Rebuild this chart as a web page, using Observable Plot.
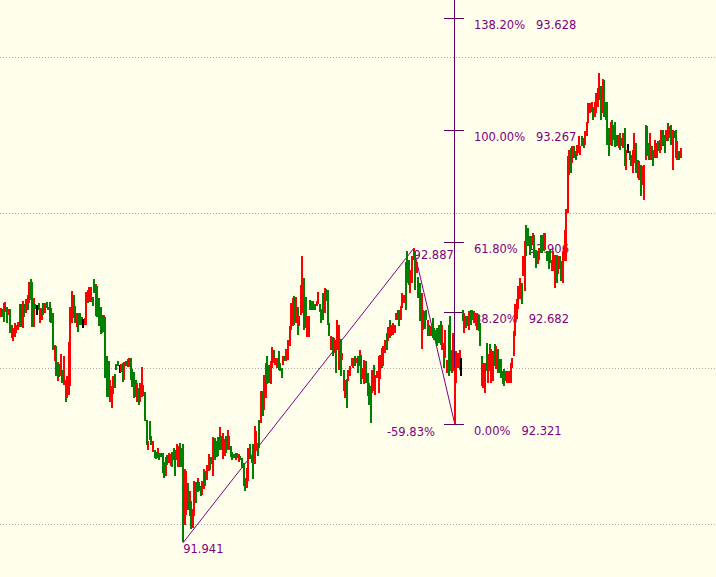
<!DOCTYPE html>
<html><head><meta charset="utf-8">
<script src="https://cdn.jsdelivr.net/npm/d3@7"></script>
<script src="https://cdn.jsdelivr.net/npm/@observablehq/plot@0.6"></script>
<style>
html,body{margin:0;padding:0;background:#FFFFEC;overflow:hidden;}
#chart svg{display:block;}
</style></head><body><div id="chart"></div>
<script>
// Bar highs (price), left to right
const high = [
92.693,92.690,92.709,92.714,92.696,92.690,92.690,92.639,92.629,92.645,92.639,92.650,92.707,92.707,92.718,92.707,92.722,92.736,92.779,92.786,
92.779,92.725,92.707,92.704,92.709,92.693,92.693,92.709,92.709,92.714,92.696,92.712,92.693,92.677,92.575,92.572,92.519,92.514,92.546,92.495,
92.540,92.463,92.474,92.586,92.698,92.750,92.736,92.700,92.677,92.679,92.679,92.666,92.658,92.661,92.746,92.752,92.763,92.763,92.728,92.786,
92.771,92.765,92.725,92.698,92.672,92.672,92.666,92.540,92.522,92.461,92.444,92.474,92.482,92.514,92.525,
92.511,92.514,92.516,92.519,92.525,92.530,92.532,92.532,92.497,92.489,92.462,92.452,92.436,92.454,92.505,92.446,92.425,92.334,92.265,92.329,
92.283,92.265,92.238,92.232,92.243,92.227,92.229,92.227,92.200,92.216,92.222,92.227,92.225,92.232,92.243,92.238,92.257,92.249,92.259,92.243,
92.257,92.176,92.168,92.131,92.104,92.072,92.047,92.136,92.133,92.147,92.133,92.120,92.136,92.176,92.168,92.190,92.225,92.214,92.216,92.278,
92.275,92.265,92.278,92.311,92.283,92.293,92.272,92.283,92.300,92.283,92.249,92.232,92.225,92.229,92.229,92.225,92.219,92.211,
92.196,92.148,92.180,92.244,92.255,92.218,92.255,92.314,92.298,92.260,92.335,92.426,92.426,92.480,92.517,92.541,92.512,92.523,92.569,92.560,
92.533,92.533,92.555,92.517,92.501,92.541,92.541,92.562,92.592,92.637,92.710,92.726,92.733,92.731,92.697,92.667,92.769,92.862,92.790,92.729,
92.669,92.667,92.721,92.715,92.715,92.708,92.715,92.747,92.708,92.691,92.742,92.758,92.755,92.753,92.646,92.603,92.601,92.597,92.592,92.656,
92.640,92.594,92.549,92.496,92.462,92.464,92.494,92.507,92.533,92.533,92.539,92.533,92.539,92.560,92.544,
92.501,92.528,92.522,92.485,92.453,92.442,92.496,92.512,92.480,92.490,92.539,92.544,92.565,92.571,92.592,92.613,92.633,92.656,92.640,92.646,
92.640,92.678,92.688,92.688,92.699,92.742,92.736,92.843,92.876,92.849,92.817,92.860,92.887,92.876,92.843,92.795,92.774,92.742,92.688,92.683,
92.688,92.656,92.640,92.635,92.662,92.629,92.624,92.629,92.640,92.651,92.640,92.581,92.624,92.528,92.640,92.667,92.560,92.613,92.501,92.555,
92.549,92.560,92.533,92.688,92.678,92.667,92.667,92.683,92.688,92.688,92.683,92.678,92.678,92.672,
92.647,92.540,92.518,92.518,92.583,92.545,92.577,92.561,92.556,92.577,92.572,92.561,92.529,92.529,92.492,92.497,92.492,92.492,92.492,92.518,
92.534,92.620,92.706,92.722,92.765,92.791,92.775,92.861,92.909,92.962,92.952,92.925,92.925,92.936,92.930,92.882,92.877,92.888,92.930,92.930,
92.936,92.936,92.877,92.877,92.882,92.850,92.877,92.866,92.866,92.861,92.861,92.845,92.877,92.946,93.011,93.182,93.203,93.209,93.214,93.214,
93.198,93.219,93.246,93.214,93.246,93.241,93.262,93.294,93.353,93.353,93.358,93.340,93.358,93.385,93.401,
93.449,93.407,93.430,93.428,93.358,93.358,93.273,93.294,93.300,93.283,93.294,93.251,93.251,93.257,93.241,93.257,93.273,93.203,93.222,93.198,
93.187,93.203,93.257,93.225,93.171,93.166,93.155,93.150,93.155,93.283,93.278,93.225,93.257,93.214,93.203,93.233,93.225,93.230,93.233,93.267,
93.267,93.251,93.267,93.289,93.278,93.283,93.267,93.262,93.267,93.230,93.198,93.209
];
// Bar lows (price)
const low = [
92.666,92.666,92.650,92.682,92.645,92.672,92.613,92.597,92.589,92.602,92.613,92.623,92.634,92.634,92.629,92.666,92.677,92.688,92.709,92.720,
92.634,92.634,92.690,92.672,92.688,92.645,92.656,92.672,92.677,92.693,92.688,92.650,92.645,92.559,92.525,92.474,92.458,92.471,92.474,92.452,
92.447,92.390,92.404,92.415,92.442,92.645,92.661,92.645,92.634,92.618,92.639,92.639,92.629,92.639,92.639,92.709,92.714,92.714,92.700,92.741,
92.668,92.664,92.636,92.611,92.613,92.618,92.468,92.407,92.409,92.390,92.372,92.418,92.436,92.495,92.506,
92.484,92.489,92.457,92.462,92.507,92.505,92.503,92.462,92.441,92.404,92.409,92.393,92.382,92.393,92.409,92.411,92.329,92.254,92.236,92.270,
92.254,92.232,92.211,92.208,92.211,92.206,92.216,92.163,92.147,92.152,92.190,92.195,92.186,92.182,92.204,92.152,92.206,92.182,92.182,92.184,
91.941,91.997,92.029,92.045,92.024,91.983,91.986,92.026,92.067,92.101,92.104,92.090,92.093,92.112,92.120,92.142,92.168,92.174,92.193,92.152,
92.206,92.216,92.219,92.238,92.238,92.208,92.219,92.227,92.238,92.238,92.216,92.206,92.211,92.206,92.211,92.200,92.204,92.179,
92.121,92.105,92.116,92.137,92.207,92.196,92.143,92.191,92.234,92.218,92.244,92.325,92.346,92.367,92.405,92.448,92.453,92.448,92.501,92.517,
92.512,92.501,92.496,92.490,92.469,92.512,92.523,92.523,92.528,92.571,92.624,92.637,92.640,92.646,92.608,92.637,92.672,92.678,92.624,92.630,
92.601,92.601,92.688,92.686,92.686,92.688,92.699,92.708,92.680,92.646,92.656,92.678,92.715,92.640,92.605,92.560,92.541,92.549,92.485,92.560,
92.494,92.474,92.528,92.426,92.405,92.373,92.458,92.474,92.507,92.501,92.509,92.517,92.485,92.507,92.448,
92.464,92.448,92.453,92.410,92.383,92.325,92.421,92.426,92.415,92.469,92.421,92.464,92.501,92.506,92.549,92.560,92.587,92.597,92.603,92.608,
92.613,92.656,92.656,92.635,92.656,92.694,92.710,92.688,92.774,92.769,92.742,92.774,92.849,92.753,92.806,92.726,92.651,92.562,92.624,92.626,
92.656,92.603,92.603,92.603,92.597,92.592,92.581,92.571,92.581,92.576,92.560,92.501,92.533,92.485,92.474,92.490,92.485,92.490,92.321,92.453,
92.501,92.496,92.474,92.651,92.613,92.629,92.635,92.624,92.640,92.656,92.646,92.635,92.624,92.619,
92.572,92.444,92.438,92.422,92.492,92.454,92.492,92.454,92.460,92.508,92.497,92.486,92.486,92.470,92.449,92.444,92.460,92.454,92.454,92.454,
92.502,92.540,92.604,92.658,92.690,92.722,92.706,92.797,92.748,92.861,92.893,92.866,92.882,92.898,92.855,92.823,92.834,92.850,92.872,92.872,
92.877,92.882,92.845,92.818,92.839,92.813,92.813,92.759,92.775,92.802,92.818,92.781,92.775,92.845,92.845,93.000,93.123,93.128,93.160,93.176,
93.171,93.182,93.193,93.187,93.214,93.209,93.219,93.246,93.289,93.321,93.326,93.300,93.310,93.321,93.342,
93.364,93.300,93.321,93.310,93.300,93.219,93.182,93.219,93.214,93.235,93.212,93.214,93.209,93.203,93.214,93.209,93.150,93.139,93.193,93.171,
93.150,93.128,93.160,93.128,93.112,93.107,93.053,93.091,93.043,93.171,93.182,93.171,93.171,93.171,93.150,93.176,93.176,93.198,93.193,93.203,
93.214,93.193,93.230,93.230,93.241,93.219,93.139,93.241,93.176,93.171,93.171,93.176
];
// Bar direction: g = up, r = down, k = unchanged
const barDir = (
"rggrgrggrr"+"rrggrgrgrg"+"grgkgrrgrg"+"ggggrgrgrg"+"rgrrrrggrg"+"ggkrrgrrgg"+"rggggrgggr"+"rrggg"+
"krgrggrggg"+"grgrrrggrg"+"grggrggggr"+"grrgggrrgg"+"grrgrgrrgr"+"ggrrgrrgrr"+"gggrgrrgrr"+"gggrgrgg"+
"ggrrgrgrrg"+"grgrrggrrg"+"rrgggrgrrr"+"rrgrgrrrgg"+"rrggggrrgg"+"grgggrgrgr"+"rgrgrgrrgr"+"grgrg"+
"rrggggrgrr"+"rrgrrgrgrr"+"rrggrrrggg"+"rrrgrggrrg"+"grgrggrggg"+"rgrrgggrrr"+"rrkgrggrgg"+"rgrg"+
"ggrrgrgrrg"+"rggggggrrr"+"rrrrrrgrrg"+"gggrggrrgg"+"grgggrrrgr"+"ggrrrrrgrg"+"grrrggrrrr"+"rgrrr"+
"rgrggggrgr"+"ggrgrrgrkg"+"grrggrgrrr"+"ggrggrrgrr"+"ggrgrgrggr"+"gr"
).split("");

// Fibonacci expansion anchors (bar number, price)
const fibA = {bar: 115, price: 91.941};
const fibB = {bar: 260, price: 92.887};
const fibC = {bar: 286, price: 92.321};
const fibLevels = [0, 0.382, 0.618, 1, 1.382];
const gridPrices = [92.0, 92.5, 93.0, 93.5];
const yDomain = [91.8285, 93.685];

const purple = "#800080";
const darkPurple = "#5e005e";
const colorOf = {g: "#008000", r: "#ff0000", k: "#000000"};
const bars = high.map((h, i) => ({i, high: h, low: low[i], dir: barDir[i] || "g"}));
const N = bars.length;
const range = fibB.price - fibA.price;
const levelRows = fibLevels.map(l => ({l, price: +(fibC.price + l * range).toFixed(3)}));
const retr = (fibC.price - fibB.price) / range * 100;
const font = "DejaVu Sans";

const chart = Plot.plot({
  width: 716, height: 577, margin: 0,
  x: {domain: [0, (N - 1) * 716 / 680], axis: null},
  y: {domain: yDomain, axis: null},
  color: {type: "identity"},
  style: {background: "#FFFFEC", fontFamily: font},
  marks: [
    Plot.ruleY(gridPrices, {stroke: "#a8a8a8", strokeDasharray: "1,2", shapeRendering: "crispEdges"}),
    Plot.ruleX([fibC], {x: "bar", y1: "price", y2: () => yDomain[1], stroke: darkPurple, strokeWidth: 1, shapeRendering: "crispEdges"}),
    Plot.ruleY(levelRows, {y: "price", x1: () => fibC.bar - 6.3, x2: () => fibC.bar + 6.3, stroke: darkPurple, strokeWidth: 1, shapeRendering: "crispEdges"}),
    Plot.line([fibA, fibB, fibC], {x: "bar", y: "price", stroke: purple, strokeWidth: 1}),
    Plot.text(levelRows, {x: () => fibC.bar, y: "price", dx: 19, dy: 7, textAnchor: "start",
      text: d => `${(d.l * 100).toFixed(2)}%\u00a0\u00a0\u00a0${d.price.toFixed(3)}`,
      fill: purple, fontSize: 11.5, fontFamily: font}),
    Plot.text([fibA, fibB], {x: "bar", y: "price", dy: 7, textAnchor: "start",
      text: d => d.price.toFixed(3), fill: purple, fontSize: 11.5, fontFamily: font}),
    Plot.text([fibC], {x: "bar", y: "price", dx: -20, dy: 8, textAnchor: "end",
      text: () => `${retr.toFixed(2)}%`, fill: purple, fontSize: 11.5, fontFamily: font}),
    Plot.ruleX(bars, {x: "i", y1: "low", y2: "high", stroke: d => colorOf[d.dir], strokeWidth: 2, shapeRendering: "crispEdges"})
  ]
});
document.getElementById("chart").appendChild(chart);
</script>
</body></html>
